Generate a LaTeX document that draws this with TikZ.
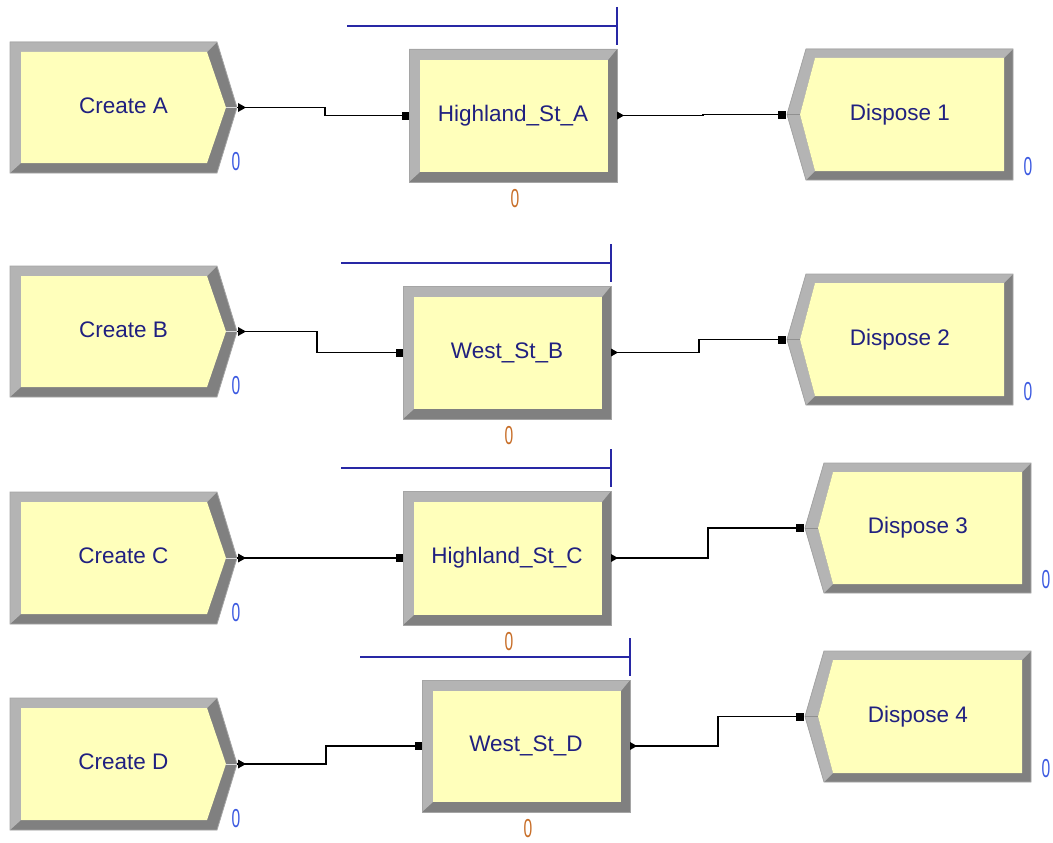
\documentclass[tikz,border=0pt]{standalone}
\usepackage{fontspec}
\setmainfont{Liberation Sans}
\usepackage{graphicx}
\definecolor{yel}{RGB}{255,255,187}
\definecolor{bevL}{RGB}{180,180,180}
\definecolor{bevD}{RGB}{128,128,128}
\definecolor{edgeC}{RGB}{165,165,165}
\definecolor{txtC}{RGB}{32,32,128}
\definecolor{cntB}{RGB}{60,90,225}
\definecolor{cntO}{RGB}{200,110,40}
\definecolor{qline}{RGB}{40,40,165}
\newcommand\cntzero{\scalebox{0.6}[1]{0}}
\tikzset{
  modtext/.style={text=txtC, font=\fontsize{22.5}{26}\selectfont, inner sep=0pt},
  cntblue/.style={text=cntB, font=\fontsize{26}{30}\selectfont, inner sep=0pt},
  cntorange/.style={text=cntO, font=\fontsize{26}{30}\selectfont, inner sep=0pt},
  conn/.style={draw=black, line width=1.3pt},
  queue/.style={draw=qline, line width=1.4pt},
  rim/.style={draw=edgeC, line width=0.8pt},
}
% Create module: name, x-left, y-top, y-bottom, text
\newcommand\CreateMod[5]{%
  \pgfmathsetmacro\mXa{#2}\pgfmathsetmacro\mXb{#2+207}\pgfmathsetmacro\mXc{#2+227}%
  \pgfmathsetmacro\mYa{#3}\pgfmathsetmacro\mYb{#4}\pgfmathsetmacro\mYm{(#3+#4)/2}%
  \fill[bevD] (\mXa,\mYa) -- (\mXb,\mYa) -- (\mXc,\mYm) -- (\mXb,\mYb) -- (\mXa,\mYb) -- cycle;
  \fill[bevL] (\mXa,\mYa) -- (\mXb,\mYa) -- (\mXb-10,\mYa+10) -- (\mXa+11,\mYa+10) -- (\mXa+11,\mYb-10) -- (\mXa,\mYb) -- cycle;
  \fill[yel] (\mXa+11,\mYa+10) -- (\mXb-10,\mYa+10) -- (\mXc-11,\mYm) -- (\mXb-10,\mYb-10) -- (\mXa+11,\mYb-10) -- cycle;
  \draw[rim] (\mXa,\mYa) -- (\mXb,\mYa) -- (\mXc,\mYm) -- (\mXb,\mYb) -- (\mXa,\mYb) -- cycle;
  \draw[bevL!50!white, line width=0.8pt] (\mXc-11,\mYm) -- (\mXc,\mYm);
  \node[modtext] (#1) at ({(\mXa+\mXc)/2},\mYm-2) {#5};
  \coordinate (#1-out) at (\mXc,\mYm);
  \fill[black] (\mXc+1,\mYm-4.5) -- (\mXc+9,\mYm) -- (\mXc+1,\mYm+4.5) -- cycle;
  \node[cntblue] (#1-cnt) at (\mXc-1,\mYb-11) {\cntzero};
}
% Process module: name, x-left, y-top, y-bottom, text
\newcommand\ProcMod[5]{%
  \pgfmathsetmacro\mXa{#2}\pgfmathsetmacro\mXb{#2+208}%
  \pgfmathsetmacro\mYa{#3}\pgfmathsetmacro\mYb{#4}\pgfmathsetmacro\mYm{(#3+#4)/2}%
  \fill[bevD] (\mXa,\mYa) rectangle (\mXb,\mYb);
  \fill[bevL] (\mXa,\mYa) -- (\mXb,\mYa) -- (\mXb-9,\mYa+11) -- (\mXa+11,\mYa+11) -- (\mXa+11,\mYb-10) -- (\mXa,\mYb) -- cycle;
  \fill[yel] (\mXa+11,\mYa+11) rectangle (\mXb-9,\mYb-10);
  \draw[rim] (\mXa,\mYa) rectangle (\mXb,\mYb);
  \node[modtext] (#1) at ({(\mXa+\mXb)/2},\mYm) {#5};
  \draw[queue] (\mXa-62,\mYa-23) -- (\mXb,\mYa-23);
  \draw[queue] (\mXb,\mYa-42) -- (\mXb,\mYa-4);
  \coordinate (#1-in) at (\mXa-6,\mYm);
  \coordinate (#1-out) at (\mXb,\mYm);
  \fill[black] (\mXa-7,\mYm-4) rectangle (\mXa,\mYm+4);
  \fill[black] (\mXb,\mYm-4) -- (\mXb+7,\mYm) -- (\mXb,\mYm+4) -- cycle;
  \node[cntorange] (#1-cnt) at ({(\mXa+\mXb)/2+2},\mYb+16.5) {\cntzero};
}
% Dispose module: name, x-tip, y-top, y-bottom, text
\newcommand\DispMod[5]{%
  \pgfmathsetmacro\mXa{#2}\pgfmathsetmacro\mXb{#2+19}\pgfmathsetmacro\mXc{#2+226}%
  \pgfmathsetmacro\mYa{#3}\pgfmathsetmacro\mYb{#4}\pgfmathsetmacro\mYm{(#3+#4)/2}%
  \fill[bevD] (\mXa,\mYm) -- (\mXb,\mYa) -- (\mXc,\mYa) -- (\mXc,\mYb) -- (\mXb,\mYb) -- cycle;
  \fill[bevL] (\mXa,\mYm) -- (\mXb,\mYa) -- (\mXc,\mYa) -- (\mXc-9,\mYa+9) -- (\mXb+9,\mYa+9) -- (\mXa+13,\mYm) -- (\mXb+9,\mYb-9) -- (\mXb,\mYb) -- cycle;
  \fill[yel] (\mXa+13,\mYm) -- (\mXb+9,\mYa+9) -- (\mXc-9,\mYa+9) -- (\mXc-9,\mYb-9) -- (\mXb+9,\mYb-9) -- cycle;
  \draw[rim] (\mXa,\mYm) -- (\mXb,\mYa) -- (\mXc,\mYa) -- (\mXc,\mYb) -- (\mXb,\mYb) -- cycle;
  \draw[bevD!70!bevL, line width=0.8pt] (\mXa,\mYm) -- (\mXa+13,\mYm);
  \node[modtext] (#1) at ({(\mXa+\mXc)/2},\mYm) {#5};
  \coordinate (#1-in) at (\mXa-8,\mYm);
  \fill[black] (\mXa-9,\mYm-4) rectangle (\mXa-1,\mYm+4);
  \node[cntblue] (#1-cnt) at (\mXc+15,\mYb-13) {\cntzero};
}
\begin{document}
\begin{tikzpicture}[x=1pt,y=-1pt]
\useasboundingbox (0,0) rectangle (1053,843);
\fill[white] (0,0) rectangle (1053,843);
% modules
\CreateMod{ca}{10}{42}{173}{Create A}
\ProcMod{ha}{409}{49}{182}{Highland\_St\_A}
\DispMod{da}{787}{49}{180}{Dispose 1}
\CreateMod{cb}{10}{266}{397}{Create B}
\ProcMod{wb}{403}{286}{419}{West\_St\_B}
\DispMod{db}{787}{274}{405}{Dispose 2}
\CreateMod{cc}{10}{492}{624}{Create C}
\ProcMod{hc}{403}{491}{625}{Highland\_St\_C}
\DispMod{dc}{805}{463}{593}{Dispose 3}
\CreateMod{cd}{10}{698}{830}{Create D}
\ProcMod{wd}{422}{680}{812}{West\_St\_D}
\DispMod{dd}{805}{651}{782}{Dispose 4}
% connectors
\draw[conn] (ca-out) -- ++(88,0) |- (ha-in);
\draw[conn] (ha-out) -- ++(86,0) |- (da-in);
\draw[conn] (cb-out) -- ++(80,0) |- (wb-in);
\draw[conn] (wb-out) -- ++(88,0) |- (db-in);
\draw[conn] (cc-out) -- (hc-in);
\draw[conn] (hc-out) -- ++(97,0) |- (dc-in);
\draw[conn] (cd-out) -- ++(89,0) |- (wd-in);
\draw[conn] (wd-out) -- ++(88,0) |- (dd-in);
\end{tikzpicture}
\end{document}
